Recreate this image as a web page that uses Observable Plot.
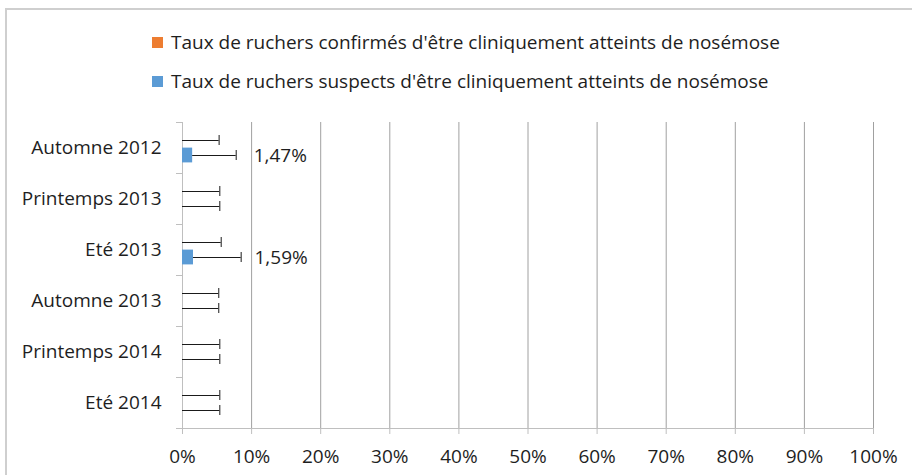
<!DOCTYPE html>
<html>
<head>
<meta charset="utf-8">
<script src="https://cdn.jsdelivr.net/npm/d3@7"></script>
<script src="https://cdn.jsdelivr.net/npm/@observablehq/plot@0.6"></script>
<style>
  html, body { margin: 0; padding: 0; background: #fff; }
  #wrap { position: relative; width: 912px; height: 475px; overflow: hidden; background: #fff; font-family: "Open Sans", Lato, sans-serif; color: #1e1e1e; }
  #frame { position: absolute; left: 5px; top: 8px; width: 920px; height: 500px; border-left: 2px solid #cfcfcf; border-top: 2px solid #cfcfcf; box-sizing: border-box; }
  #chart { position: absolute; left: 0; top: 0; }
  .leg { position: absolute; left: 152px; height: 24px; display: flex; align-items: center; font-size: 19px; white-space: nowrap; }
  .sw { width: 11px; height: 11px; margin-right: 8px; }
</style>
</head>
<body>
<div id="wrap">
  <div id="frame"></div>
  <div id="chart"></div>
  <div id="legend"></div>
</div>
<script>
const categories = ["Automne 2012", "Printemps 2013", "Eté 2013", "Automne 2013", "Printemps 2014", "Eté 2014"];
const seriesNames = [
  "Taux de ruchers confirmés d'être cliniquement atteints de nosémose",
  "Taux de ruchers suspects d'être cliniquement atteints de nosémose"
];
const seriesColors = ["#ED7D31", "#5B9BD5"];
const confirmedValues = [0, 0, 0, 0, 0, 0];
const suspectValues = [1.47, 0, 1.59, 0, 0, 0];
const confirmedErrors = [5.3, 5.4, 5.6, 5.25, 5.4, 5.4];
const suspectErrors = [6.3, 5.4, 6.9, 5.25, 5.4, 5.4];
const xTicks = [0, 10, 20, 30, 40, 50, 60, 70, 80, 90, 100];

const W = 912, H = 475;
const mTop = 122, mBottom = 47, mLeft = 182, mRight = 39;
const band = (H - mTop - mBottom) / categories.length;
const barH = 14.8, capH = 10;
const offsets = [-7.5, 7.5];
const fs = 19;

const values = [confirmedValues, suspectValues];
const errors = [confirmedErrors, suspectErrors];
const rowsBySeries = values.map((vals, s) =>
  categories.map((c, i) => ({cat: c, series: s, value: vals[i], err: errors[s][i]}))
);

const marks = [
  Plot.gridX(xTicks.slice(1), {stroke: "#a0a0a0", strokeOpacity: 1}),
  Plot.frame({anchor: "left", stroke: "#bfbfbf"}),
  Plot.frame({anchor: "bottom", stroke: "#bfbfbf", insetLeft: -6}),
  Plot.axisY(categories, {tickSize: 6, fill: "none", stroke: "#bfbfbf", dy: -band / 2, label: null}),
  Plot.axisY({tickSize: 0, tickPadding: 21, fontSize: fs, fill: "#1e1e1e", label: null}),
  Plot.axisX(xTicks, {tickSize: 6, tickPadding: 15, stroke: "#bfbfbf", fill: "#1e1e1e", fontSize: fs, tickFormat: d => d + "%", label: null})
];

rowsBySeries.forEach((rows, s) => {
  const dy = offsets[s];
  marks.push(
    Plot.barX(rows, {x: "value", y: "cat", fill: seriesColors[s], insetTop: (band - barH) / 2, insetBottom: (band - barH) / 2, dy}),
    Plot.ruleY(rows, {y: "cat", x1: "value", x2: d => d.value + d.err, stroke: "#1a1a1a", strokeWidth: 1, dy}),
    Plot.tickX(rows, {x: d => d.value + d.err, y: "cat", stroke: "#1a1a1a", strokeWidth: 1, insetTop: (band - capH) / 2, insetBottom: (band - capH) / 2, dy})
  );
});

marks.push(
  Plot.text(rowsBySeries[1].filter(d => d.value > 0), {
    x: "value", y: "cat", dy: offsets[1], dx: 61, textAnchor: "start", fontSize: fs, fill: "#1e1e1e",
    text: d => d.value.toFixed(2).replace(".", ",") + "%"
  })
);

const chart = Plot.plot({
  width: W,
  height: H,
  marginTop: mTop,
  marginBottom: mBottom,
  marginLeft: mLeft,
  marginRight: mRight,
  style: {fontFamily: "'Open Sans', Lato, sans-serif", fontSize: fs + "px", background: "transparent", color: "#1e1e1e"},
  x: {domain: [0, 100]},
  y: {type: "band", domain: categories, padding: 0},
  marks
});
document.getElementById("chart").appendChild(chart);

const legend = document.getElementById("legend");
const legendCenters = [42, 81];
seriesNames.forEach((name, s) => {
  const item = document.createElement("div");
  item.className = "leg";
  item.style.top = (legendCenters[s] - 12) + "px";
  const sw = document.createElement("span");
  sw.className = "sw";
  sw.style.background = seriesColors[s];
  const t = document.createElement("span");
  t.textContent = name;
  item.appendChild(sw);
  item.appendChild(t);
  legend.appendChild(item);
});
</script>
</body>
</html>
